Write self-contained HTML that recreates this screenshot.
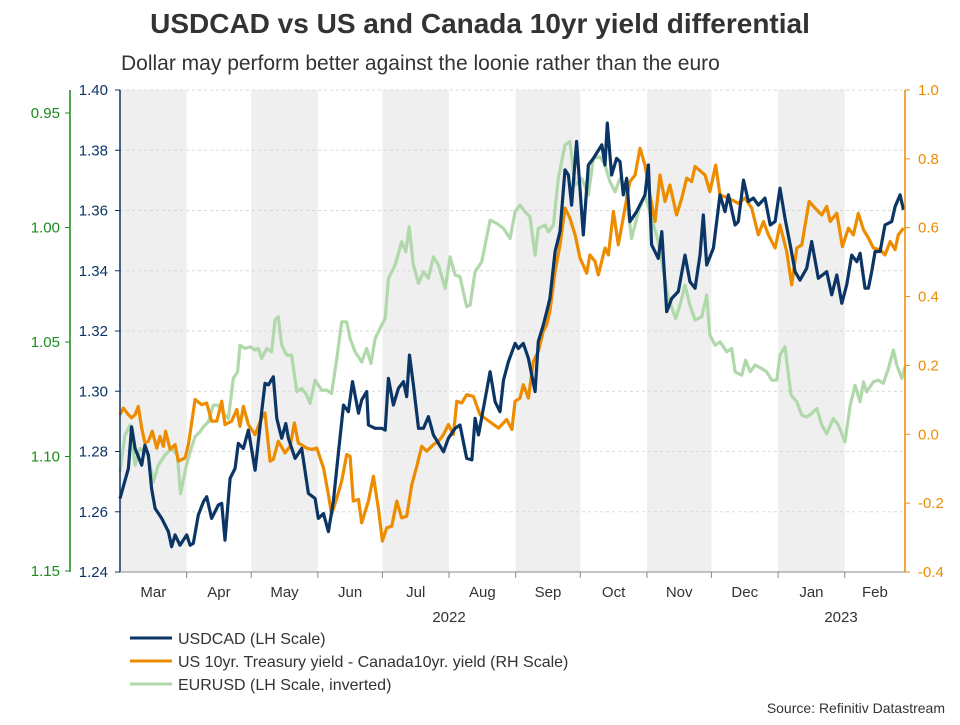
<!DOCTYPE html>
<html><head><meta charset="utf-8"><style>
body{margin:0;background:#fff;font-family:"Liberation Sans",Arial,sans-serif}
svg text{font-family:"Liberation Sans",Arial,sans-serif}
</style></head><body>
<svg id="c" width="960" height="720" viewBox="0 0 960 720" xmlns="http://www.w3.org/2000/svg">
<text x="480" y="33" text-anchor="middle" font-size="28" font-weight="bold" fill="#333">USDCAD vs US and Canada 10yr yield differential</text>
<text x="121" y="70" font-size="21" fill="#333">Dollar may perform better against the loonie rather than the euro</text>
<g id="bands"></g><g id="grid"></g><g id="lines"></g><g id="axes"></g>
<g>
<line x1="130" y1="638" x2="172" y2="638" stroke="#0b3565" stroke-width="3"/>
<text x="178" y="644" font-size="16" fill="#333">USDCAD (LH Scale)</text>
<line x1="130" y1="661" x2="172" y2="661" stroke="#ee8c00" stroke-width="3"/>
<text x="178" y="667" font-size="16" fill="#333">US 10yr. Treasury yield - Canada10yr. yield (RH Scale)</text>
<line x1="130" y1="684" x2="172" y2="684" stroke="#b0d8ab" stroke-width="3"/>
<text x="178" y="690" font-size="16" fill="#333">EURUSD (LH Scale, inverted)</text>
</g>
<text x="945" y="713" text-anchor="end" font-size="14" fill="#333">Source: Refinitiv Datastream</text>
</svg>
<script>
const usdDays=[0,3.9,5.4,7,10.1,11.6,13.2,14.7,16.3,19.4,22.5,24,25.6,27.9,31,32.6,34.1,36.4,38.8,40.3,42.6,45.7,47.3,48.8,51.2,53.5,55,57.4,59.7,62.8,65.9,67.4,69,71.3,72.9,75.2,77.1,78.3,81.4,84.5,87.6,90.7,92.2,94.6,96.9,99.2,101.6,103.9,106.2,108.1,110.9,112.4,114.7,115.5,118.6,121.7,123.3,124.8,127.1,129.5,131.8,133.3,134.6,136.4,138.8,141.1,143.4,145.7,148.1,150.4,152.7,155.8,158.1,161.2,163.6,165.1,166.7,169.8,172.1,174.4,176.7,178.3,180.6,183.7,185.2,187.5,189.9,193,194.5,196.8,198.4,199.9,202.3,204.6,206.9,208.5,210,212.3,215.4,217.8,220.1,224,225.5,226.6,228.6,230.9,232.5,234,235.6,237.1,240.2,244.1,245.7,247.2,250.3,251.9,254.2,256.5,259.6,262.7,265,267.4,269.7,271.2,272.8,275.9,279,281.3,282.9,286,287.5,289.9,292.2,294.5,296.8,299.9,302.3,304.6,306.9,309.2,311.6,313.9,316.2,319.3,321.6,324.7,328.6,330.9,333.3,335.6,337.9,340.2,342.6,344.1,346.4,348,349.5,351.1,353.4,355.7,358.8,360.4,362.7,364.3];
const usdcad=[1.2644,1.2744,1.2882,1.2810,1.2755,1.2821,1.2788,1.2677,1.2611,1.2578,1.2534,1.2484,1.2523,1.2489,1.2523,1.2489,1.2495,1.2589,1.2633,1.2650,1.2578,1.2622,1.2628,1.2506,1.2711,1.2744,1.2827,1.2810,1.2871,1.2738,1.2932,1.3026,1.3021,1.3048,1.2910,1.2844,1.2893,1.2844,1.2777,1.2810,1.2661,1.2644,1.2578,1.2594,1.2534,1.2633,1.2799,1.2954,1.2932,1.3032,1.2927,1.2971,1.2999,1.2888,1.2877,1.2877,1.2871,1.3043,1.2954,1.3010,1.3032,1.2982,1.3120,1.3021,1.2877,1.2877,1.2916,1.2855,1.2827,1.2799,1.2844,1.2877,1.2888,1.2777,1.2772,1.2910,1.2855,1.2976,1.3065,1.2965,1.2932,1.3037,1.3098,1.3159,1.3142,1.3159,1.3109,1.2999,1.3165,1.3220,1.3264,1.3308,1.3464,1.3530,1.3735,1.3718,1.3618,1.3829,1.3519,1.3751,1.3773,1.3818,1.3751,1.3890,1.3718,1.3773,1.3762,1.3652,1.3707,1.3563,1.3596,1.3652,1.3751,1.3486,1.3441,1.3530,1.3264,1.3308,1.3331,1.3452,1.3364,1.3342,1.3452,1.3585,1.3419,1.3475,1.3652,1.3596,1.3652,1.3552,1.3563,1.3701,1.3630,1.3641,1.3618,1.3641,1.3552,1.3563,1.3674,1.3574,1.3486,1.3397,1.3369,1.3408,1.3497,1.3375,1.3397,1.3320,1.3386,1.3292,1.3353,1.3452,1.3430,1.3458,1.3342,1.3342,1.3397,1.3464,1.3464,1.3552,1.3563,1.3613,1.3652,1.3602];
const yldDays=[0,1.6,3.9,5.4,7,8.5,10.1,11.6,13.2,15,17.1,18.6,20.2,21.2,23.3,25.6,27.1,30.2,31.8,34.9,38,40.3,42.6,45,47.3,48.8,51.9,54.3,55.8,57.4,59.7,62.8,65.9,67.4,69.8,71.3,73.6,76.7,79.1,81.1,82.9,86.8,89.1,91.5,94.6,96.9,98.4,100.8,103.1,105.4,107,108.5,110.9,112.4,115.5,117.8,120.2,122,124,126.4,128.7,131,133.3,135.7,138,140.3,142.6,145.7,148.1,150.4,152.7,155,156.6,158.9,161.2,164.3,167.4,170.5,176,179.8,182.2,183.7,186,187.5,189.9,192.2,194.5,196.8,198.4,199.9,202.3,204.6,206.9,209.2,211.6,213.9,217,218.5,220.9,222.4,225.5,227.1,229.4,231.7,234.8,237.1,239.5,241.8,244.1,246.4,248.8,251.1,253.4,255.7,258.8,261.2,263.5,265.8,267.4,272,274.3,277,279,282.9,287.5,290.6,293.7,296.8,299.2,301.5,304.6,306.9,310,312.3,314.7,317,320.4,323.2,326.3,328.6,330.2,333.3,335.9,338.7,341,343.3,345.7,348,350.3,353.4,355.7,358.1,360.4,361.9,364.3];
const yieldDiff=[0.057,0.076,0.057,0.048,0.057,0.081,0.018,-0.025,-0.020,0.009,-0.040,-0.006,-0.035,0.009,-0.044,-0.030,-0.078,-0.069,-0.030,0.101,0.086,0.091,0.038,0.038,0.096,0.028,0.038,0.072,0.023,0.081,0.028,-0.001,0.048,0.062,-0.078,-0.073,-0.020,-0.054,-0.035,0.033,-0.025,-0.040,-0.044,-0.040,-0.098,-0.175,-0.233,-0.185,-0.136,-0.059,-0.064,-0.194,-0.189,-0.257,-0.194,-0.122,-0.218,-0.310,-0.272,-0.267,-0.194,-0.243,-0.238,-0.146,-0.093,-0.035,-0.049,-0.030,-0.020,-0.001,0.028,-0.001,0.096,0.091,0.115,0.110,0.057,0.043,0.018,0.043,0.014,0.096,0.105,0.144,0.105,0.212,0.241,0.299,0.318,0.357,0.473,0.550,0.657,0.628,0.579,0.512,0.468,0.521,0.502,0.463,0.541,0.521,0.647,0.550,0.657,0.734,0.753,0.831,0.782,0.695,0.618,0.753,0.676,0.724,0.637,0.686,0.744,0.734,0.778,0.753,0.705,0.782,0.695,0.686,0.671,0.686,0.657,0.579,0.618,0.579,0.541,0.608,0.531,0.434,0.541,0.550,0.676,0.657,0.637,0.662,0.618,0.642,0.545,0.599,0.579,0.642,0.594,0.570,0.541,0.536,0.521,0.560,0.536,0.579,0.599];
const eurDays=[0,2.3,4.7,7,9.3,11.6,13.2,15.5,17.8,20.9,24,26.7,28.2,30.5,32.6,34.9,37.2,38.8,41.1,43.4,45.7,48.1,50.4,52.7,54.7,55.8,58.1,60.5,62.8,64.3,65.9,68.2,70.5,72.1,73.6,75.2,77.5,79.8,82.2,84.5,86.8,88.4,90.7,93.8,96.1,98.4,100.8,103.1,105.4,107,109.3,112.4,114.7,116.7,118.6,121.7,123.3,124.8,127.9,131,132.9,134.4,136.4,138.8,141.1,143.4,145.7,148.1,151.2,153.5,155.8,158.1,161.2,162.8,165.1,168.2,172.1,175.2,178.3,181.4,183.7,186,188.3,190.6,193,194.5,197.6,199.2,201.5,203.8,206.9,209.2,211.6,214.7,217.8,220.1,223.2,225.5,227.8,230.2,232.5,234.8,237.9,241,244.1,247.2,250.3,255,258.4,260.4,262.7,265,267.4,270.5,272.8,274.3,276.7,279,282.1,284.4,286,289.1,290.9,293,295.3,298.4,300.7,303,305.4,306.9,309.2,312,314.7,317,319.3,321.6,324,326.3,328.6,331.7,334,337.1,339.5,341.8,344.1,345.7,347.2,350.3,352.6,354.9,357.3,359.6,361.2,363.5,365];
const eurusd=[1.1067,1.0907,1.0863,1.1038,1.0965,1.0980,1.1001,1.1111,1.1038,1.0994,1.0965,1.0994,1.1162,1.1052,1.0980,1.0914,1.0892,1.0870,1.0848,1.0776,1.0776,1.0812,1.0834,1.0659,1.0630,1.0514,1.0528,1.0521,1.0535,1.0528,1.0572,1.0528,1.0543,1.0404,1.0390,1.0514,1.0557,1.0557,1.0717,1.0703,1.0732,1.0768,1.0667,1.0710,1.0710,1.0725,1.0572,1.0412,1.0412,1.0485,1.0543,1.0587,1.0528,1.0594,1.0485,1.0426,1.0397,1.0223,1.0164,1.0062,1.0106,0.9997,1.0164,1.0244,1.0193,1.0222,1.0128,1.0164,1.0266,1.0128,1.0208,1.0215,1.0346,1.0339,1.0193,1.0150,0.9968,0.9982,1.0004,1.0048,0.9931,0.9902,0.9931,0.9953,1.0121,1.0004,0.9989,1.0019,0.9989,0.9786,0.9640,0.9625,0.9815,0.9786,0.9858,0.9698,0.9691,0.9727,0.9800,0.9844,0.9786,0.9815,1.0048,0.9931,0.9858,0.9960,1.0062,1.0310,1.0397,1.0339,1.0252,1.0339,1.0404,1.0390,1.0295,1.0470,1.0514,1.0499,1.0543,1.0528,1.0630,1.0645,1.0579,1.0630,1.0601,1.0616,1.0630,1.0667,1.0667,1.0557,1.0521,1.0732,1.0761,1.0819,1.0827,1.0812,1.0790,1.0863,1.0900,1.0834,1.0863,1.0936,1.0776,1.0689,1.0761,1.0674,1.0718,1.0674,1.0667,1.0681,1.0616,1.0535,1.0601,1.0659,1.0608];
const monthLabels=["Mar","Apr","May","Jun","Jul","Aug","Sep","Oct","Nov","Dec","Jan","Feb"];
const monthStarts=[0,31,61,92,122,153,184,214,245,275,306,337,365];
const usdTicks=[1.24,1.26,1.28,1.30,1.32,1.34,1.36,1.38,1.40];
const eurTicks=[0.95,1.00,1.05,1.10,1.15];
const yldTicks=[-0.4,-0.2,0.0,0.2,0.4,0.6,0.8,1.0];

const NS="http://www.w3.org/2000/svg";
const X0=120,X1=905,Y0=90,Y1=572;
const xS=d=>X0+(d/365)*(X1-X0);
const yUsd=v=>Y1-(v-1.24)/(0.16)*(Y1-Y0);
const yEur=v=>113+(v-0.95)/0.05*114.5;
const yYld=v=>Y1-(v+0.4)/1.4*(Y1-Y0);
function mk(tag,attrs,parent){const e=document.createElementNS(NS,tag);for(const k in attrs)e.setAttribute(k,attrs[k]);parent.appendChild(e);return e;}
const bands=document.getElementById('bands'),grid=document.getElementById('grid'),lines=document.getElementById('lines'),axes=document.getElementById('axes');
for(let i=0;i<12;i+=2){
  const r=mk('rect',{x:xS(monthStarts[i]),y:Y0,width:xS(monthStarts[i+1])-xS(monthStarts[i]),height:Y1-Y0,fill:'#efefef'},bands);
  
  
}
usdTicks.forEach(t=>{
  const y=yUsd(t);
  const g=mk('line',{x1:X0,x2:X1,y1:y,y2:y,stroke:'#d8d8d8','stroke-dasharray':'3,3'},grid);
  
  
  mk('line',{x1:X0-5,x2:X0,y1:y,y2:y,stroke:'#0b3565'},axes);
  const tx=mk('text',{x:X0-12,y:y+5,'text-anchor':'end','font-size':15,fill:'#0b3565'},axes);
  tx.textContent=t.toFixed(2);
  
  
});
eurTicks.forEach(t=>{
  const y=yEur(t);
  mk('line',{x1:65,x2:70,y1:y,y2:y,stroke:'#1a8a1a'},axes);
  const tx=mk('text',{x:60,y:y+5,'text-anchor':'end','font-size':15,fill:'#1a8a1a'},axes);
  tx.textContent=t.toFixed(2);
  
  
});
yldTicks.forEach(t=>{
  const y=yYld(t);
  mk('line',{x1:X1,x2:X1+5,y1:y,y2:y,stroke:'#ee8c00'},axes);
  const tx=mk('text',{x:X1+13,y:y+5,'font-size':15,fill:'#ee8c00'},axes);
  tx.textContent=t.toFixed(1);
  
  
});
mk('line',{x1:X0,x2:X0,y1:Y0,y2:Y1,stroke:'#0b3565','stroke-width':1.5},axes);
mk('line',{x1:70,x2:70,y1:Y0,y2:Y1,stroke:'#1a8a1a','stroke-width':1.5},axes);
mk('line',{x1:X1,x2:X1,y1:Y0,y2:Y1,stroke:'#ee8c00','stroke-width':1.5},axes);
mk('line',{x1:X0,x2:X1,y1:Y1,y2:Y1,stroke:'#888'},axes);
monthStarts.forEach((d,i)=>{
  if(i>0&&i<12) mk('line',{x1:xS(d),x2:xS(d),y1:Y1,y2:Y1+6,stroke:'#888'},axes);
  if(i<12){
    const tx=mk('text',{x:(xS(d)+xS(monthStarts[i+1]))/2,y:597,'text-anchor':'middle','font-size':15,fill:'#333'},axes);
    tx.textContent=monthLabels[i];
    
    
  }
});
[["2022",449],["2023",841]].forEach(([s,x])=>{
  const tx=mk('text',{x:x,y:622,'text-anchor':'middle','font-size':15,fill:'#333'},axes);
  tx.textContent=s;
  
  
});
function series(days,vals,ys,color,name){
  const d=days.map((dd,i)=>(i?'L':'M')+xS(dd).toFixed(1)+','+ys(vals[i]).toFixed(1)).join('');
  const p=mk('path',{d:d,fill:'none',stroke:color,'stroke-width':3.2,'stroke-linejoin':'round'},lines);
  
  
}
series(eurDays,eurusd,yEur,'#b0d8ab','eurusd-line');
series(yldDays,yieldDiff,yYld,'#ee8c00','yield-diff-line');
series(usdDays,usdcad,yUsd,'#0b3565','usdcad-line');
</script>
</body></html>
